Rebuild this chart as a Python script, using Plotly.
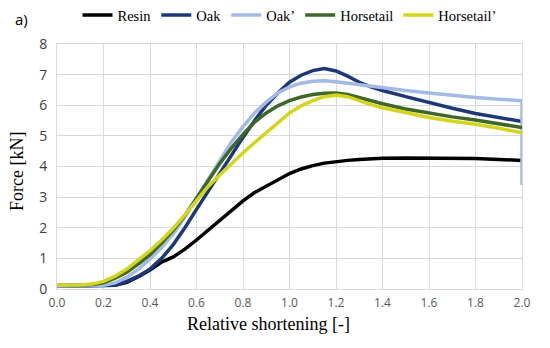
import plotly.graph_objects as go

x = [0, 0.05, 0.1, 0.15, 0.2, 0.25, 0.3, 0.35, 0.4, 0.45, 0.5, 0.55, 0.6, 0.65, 0.7, 0.75,
     0.8, 0.85, 0.9, 0.95, 1.0, 1.05, 1.1, 1.15, 1.2, 1.25, 1.3, 1.35, 1.4, 1.5, 1.6, 1.7,
     1.8, 1.9, 2.0]

resin = [0.1, 0.1, 0.1, 0.1, 0.12, 0.12, 0.22, 0.4, 0.62, 0.88, 1.05, 1.3, 1.6, 1.92, 2.22,
         2.55, 2.88, 3.15, 3.36, 3.57, 3.77, 3.92, 4.03, 4.11, 4.16, 4.2, 4.23, 4.25, 4.27,
         4.28, 4.28, 4.28, 4.26, 4.23, 4.2]
oak = [0.1, 0.1, 0.1, 0.1, 0.1, 0.12, 0.25, 0.42, 0.65, 1.0, 1.45, 2.0, 2.6, 3.2, 3.8, 4.4,
       4.95, 5.5, 6.0, 6.4, 6.75, 6.98, 7.13, 7.2, 7.12, 6.95, 6.75, 6.6, 6.48, 6.28, 6.08,
       5.9, 5.73, 5.6, 5.47]
oak2 = [0.1, 0.1, 0.1, 0.1, 0.12, 0.2, 0.38, 0.65, 0.98, 1.35, 1.8, 2.35, 2.95, 3.6, 4.2,
        4.8, 5.3, 5.75, 6.1, 6.4, 6.6, 6.72, 6.78, 6.8, 6.77, 6.72, 6.66, 6.62, 6.58, 6.48,
        6.4, 6.32, 6.25, 6.2, 6.15]
oak2_end = 3.4
horsetail = [0.12, 0.12, 0.13, 0.15, 0.2, 0.35, 0.55, 0.82, 1.12, 1.5, 1.92, 2.4, 2.95,
             3.55, 4.1, 4.6, 5.05, 5.45, 5.75, 5.98, 6.15, 6.27, 6.35, 6.39, 6.4, 6.35,
             6.25, 6.15, 6.05, 5.88, 5.74, 5.62, 5.52, 5.4, 5.27]
horsetail2 = [0.12, 0.12, 0.13, 0.16, 0.25, 0.42, 0.65, 0.95, 1.25, 1.6, 1.98, 2.42, 2.9,
              3.35, 3.72, 4.1, 4.45, 4.78, 5.1, 5.45, 5.75, 5.98, 6.15, 6.28, 6.33, 6.28,
              6.15, 6.02, 5.92, 5.75, 5.6, 5.48, 5.38, 5.25, 5.1]

names = ["Resin", "Oak", "Oak’", "Horsetail", "Horsetail’"]
colors = ["#000000", "#1c3877", "#a3bbe4", "#3e6729", "#d3d51f"]
series = [resin, oak, oak2 + [oak2_end], horsetail, horsetail2]
xs = [x, x, x + [x[-1]], x, x]

fig = go.Figure()
for n, c, ys, xx in zip(names, colors, series, xs):
    fig.add_trace(go.Scatter(x=xx, y=ys, mode="lines", name=n,
                             line=dict(color=c, width=3.5)))

fig.update_layout(
    width=542, height=340,
    margin=dict(l=49, r=28, t=36, b=59, autoexpand=False),
    paper_bgcolor="white", plot_bgcolor="white",
    showlegend=True,
    legend=dict(orientation="h", x=0.5, xanchor="center", y=1.118, yanchor="middle",
                font=dict(family="Liberation Serif", size=14.5, color="#000"),
                itemwidth=30, tracegroupgap=0, bgcolor="rgba(0,0,0,0)"),
    xaxis=dict(range=[0, 2.0], dtick=0.2, tickformat=".1f", automargin=False,
               showgrid=True, gridcolor="#d9d9d9", gridwidth=1, zeroline=False,
               showline=True, linecolor="#d9d9d9", mirror=True,
               ticks="", ticklabelstandoff=3,
               tickfont=dict(family="Open Sans", size=12, color="#595959")),
    yaxis=dict(range=[0, 8], dtick=1, automargin=False,
               showgrid=True, gridcolor="#d9d9d9", gridwidth=1, zeroline=False,
               showline=True, linecolor="#d9d9d9", mirror=True,
               ticks="", ticklabelstandoff=6,
               tickfont=dict(family="Open Sans", size=14, color="#404040")),
    annotations=[
        dict(text="a)", x=-0.092, y=1.1, xref="paper", yref="paper", showarrow=False,
             xanchor="left", yanchor="middle", borderpad=0,
             font=dict(family="Open Sans", size=15, color="#000")),
        dict(text="Relative shortening [-]", x=0.454, xref="paper", y=-0.143, yref="paper",
             showarrow=False, xanchor="center", yanchor="middle",
             font=dict(family="Liberation Serif", size=18, color="#000")),
        dict(text="Force [kN]", x=-0.086, y=0.478, xref="paper", yref="paper",
             showarrow=False, textangle=-90, xanchor="center", yanchor="middle",
             font=dict(family="Liberation Serif", size=18, color="#000")),
    ],
)

fig.write_html("out.html")
